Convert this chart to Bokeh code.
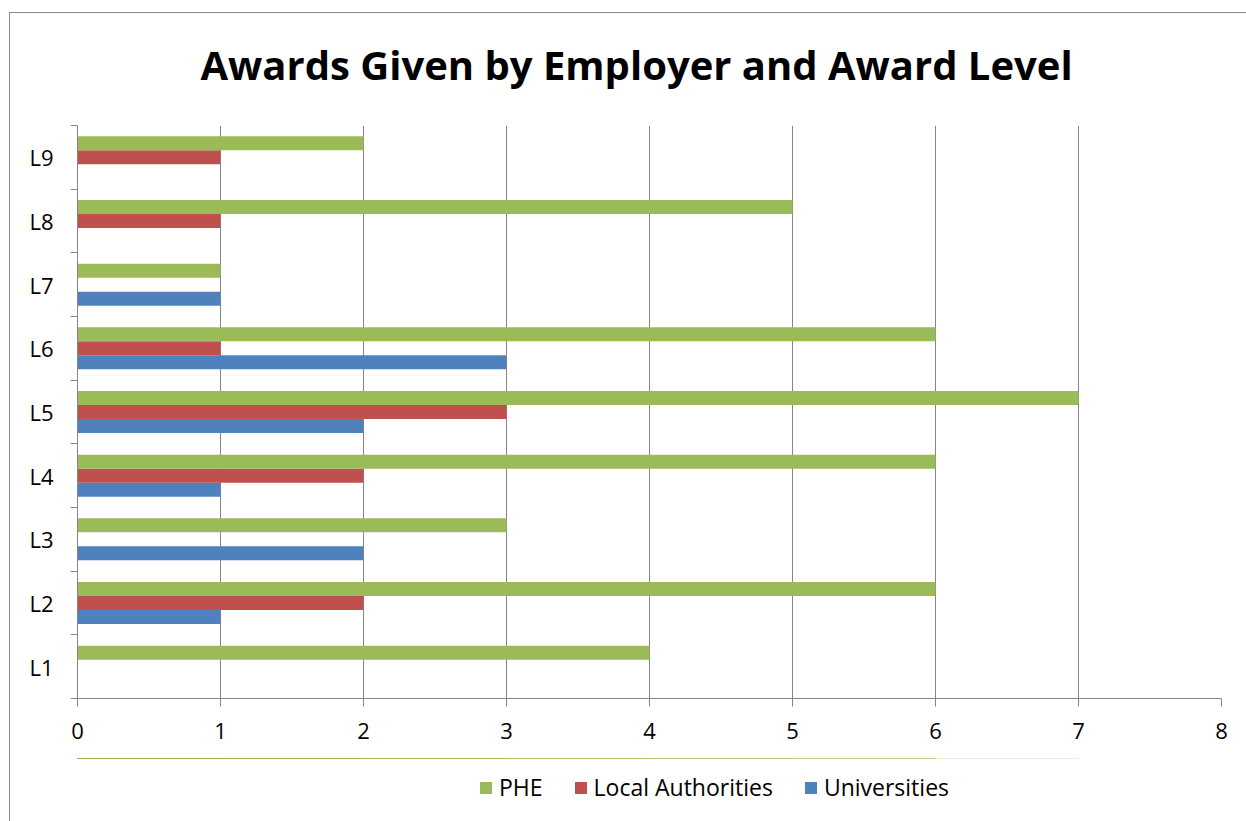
from bokeh.plotting import figure
from bokeh.layouts import column
from bokeh.models import (Range1d, LinearAxis, FixedTicker, CustomJSTickFormatter,
                          ColumnDataSource, Legend, LegendItem)
from bokeh.transform import dodge
from bokeh.embed import file_html
from bokeh.resources import INLINE

# ---- data ----
levels = ["L1", "L2", "L3", "L4", "L5", "L6", "L7", "L8", "L9"]
phe = [4, 6, 3, 6, 7, 6, 1, 5, 2]
local_authorities = [0, 2, 0, 2, 3, 1, 0, 1, 1]
universities = [0, 1, 2, 1, 2, 3, 1, 0, 0]
x_ticks = [0, 1, 2, 3, 4, 5, 6, 7, 8]
series_names = ["PHE", "Local Authorities", "Universities"]
title_text = "Awards Given by Employer and Award Level"

GREEN = "#9BBB59"
RED = "#C0504D"
BLUE = "#4F81BD"
GRAY = "#868686"
FONT = "Open Sans"

n = len(levels)
centres = [i + 0.5 for i in range(n)]          # category slot centres on the value axis
src = ColumnDataSource(dict(level=levels, pos=centres, phe=phe, la=local_authorities, uni=universities))

p = figure(frame_width=1144, frame_height=573, output_backend="svg", toolbar_location=None,
           x_range=Range1d(0, 8), y_range=Range1d(0, n),
           y_axis_location=None, min_border_left=77, min_border_right=25,
           min_border_top=125, min_border_bottom=60)
# thin chart-area border (left and top edges), drawn behind the transparent canvas
p.styles = {"background": ("linear-gradient(#8c8c8c,#8c8c8c) 9px 12px / 1237px 1px no-repeat, "
                           "linear-gradient(#8c8c8c,#8c8c8c) 9px 12px / 1px 809px no-repeat, #ffffff")}
p.outline_line_color = None
p.background_fill_color = "white"
p.border_fill_alpha = 0

# title
p.title.text = title_text
p.title.text_font = FONT
p.title.text_font_style = "bold"
p.title.text_font_size = "40px"
p.title.text_color = "black"
p.title.align = "left"
p.title.offset = 123
p.title.standoff = 68

# x axis
xa = p.xaxis[0]
xa.ticker = FixedTicker(ticks=x_ticks)
xa.major_tick_out = 8
xa.major_tick_in = 0
xa.minor_tick_line_color = None
xa.axis_line_color = GRAY
xa.major_tick_line_color = GRAY
xa.major_label_text_font = FONT
xa.major_label_text_font_size = "22px"
xa.major_label_text_color = "black"
xa.major_label_standoff = 16

p.xgrid.ticker = FixedTicker(ticks=x_ticks)
p.xgrid.grid_line_color = GRAY
p.ygrid.grid_line_color = None

# y axis: labels at category centres, tick marks at category boundaries
ya = LinearAxis(ticker=FixedTicker(ticks=centres, minor_ticks=list(range(n + 1))),
                formatter=CustomJSTickFormatter(args=dict(levels=levels),
                                                code="return levels[Math.floor(tick)]"))
ya.major_tick_out = 0
ya.major_tick_in = 0
ya.minor_tick_out = 7
ya.minor_tick_in = 0
ya.minor_tick_line_color = GRAY
ya.axis_line_color = GRAY
ya.major_label_text_font = FONT
ya.major_label_text_font_size = "22px"
ya.major_label_text_color = "black"
ya.major_label_standoff = 17
p.add_layout(ya, "left")

bh = 0.22
series = [("uni", BLUE, -bh), ("la", RED, 0), ("phe", GREEN, bh)]
for col, colr, off in series:
    p.hbar(y=dodge("pos", off), left=0, right=col, height=bh,
           color=colr, line_color=None, source=src)

# ---- legend strip below the chart ----
p2 = figure(width=1246, height=63, output_backend="svg", toolbar_location=None,
            x_range=Range1d(0, 8), y_range=Range1d(-100, -99),
            x_axis_location=None, y_axis_location=None,
            min_border_left=0, min_border_right=0, min_border_top=0, min_border_bottom=0)
p2.styles = {"background": "linear-gradient(#8c8c8c,#8c8c8c) 9px 0px / 1px 100% no-repeat, #ffffff"}
p2.outline_line_color = None
p2.background_fill_alpha = 0
p2.border_fill_alpha = 0
p2.xgrid.grid_line_color = None
p2.ygrid.grid_line_color = None

lr = {}
for col, colr, off in series:
    lr[col] = p2.hbar(y=dodge("pos", off), left=0, right=col, height=bh,
                      color=colr, line_color=None, source=src)

legend = Legend(items=[LegendItem(label=series_names[0], renderers=[lr["phe"]]),
                       LegendItem(label=series_names[1], renderers=[lr["la"]]),
                       LegendItem(label=series_names[2], renderers=[lr["uni"]])],
                orientation="horizontal", location=(401, 18))
legend.glyph_width = 15
legend.glyph_height = 15
legend.label_standoff = 6
legend.spacing = 30
legend.padding = 0
legend.margin = 0
legend.border_line_color = None
legend.background_fill_alpha = 0
legend.label_text_font = FONT
legend.label_text_font_size = "23px"
legend.label_text_color = "black"
p2.add_layout(legend, "center")

root = column(p, p2, spacing=0)

open("out.html", "w").write(file_html(root, INLINE))
